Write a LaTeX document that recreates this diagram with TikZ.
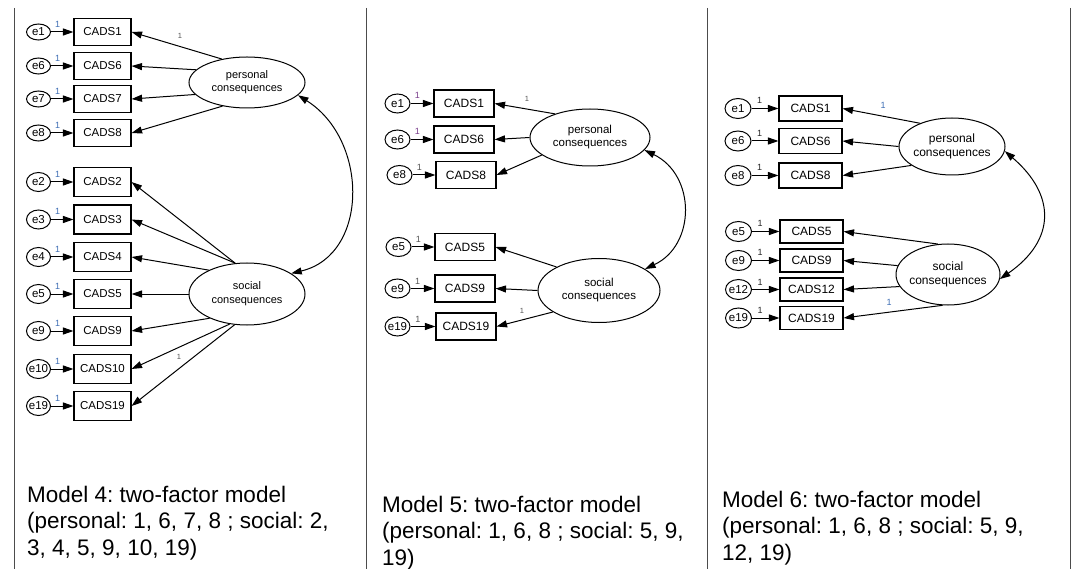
\documentclass[tikz,border=0pt]{standalone}
\usepackage{fontspec}
\setmainfont{Liberation Sans}
\usetikzlibrary{arrows.meta,shapes.geometric}
\definecolor{oneblue}{HTML}{3F6FB5}
\definecolor{onepurple}{HTML}{7A3E8C}
\definecolor{onegray}{HTML}{555555}
\frenchspacing
\begin{document}
\begin{tikzpicture}[x=1pt,y=-1pt,
  frame/.style={draw=black!70, line width=1pt},
  obs/.style={draw, line width=1.1pt, rectangle, inner sep=0pt, font=\fontsize{12}{14}\selectfont},
  err/.style={draw, line width=1pt, ellipse, inner sep=-3pt, font=\fontsize{11.5}{13}\selectfont},
  lat/.style={draw, line width=1pt, ellipse, inner sep=-12pt, align=center, font=\fontsize{11.5}{13}\selectfont},
  ld/.style={line width=1pt, -{Triangle[length=10.5pt,width=7pt]}},
  cov/.style={line width=1pt, {Triangle[length=10.5pt,width=7pt]}-{Triangle[length=10.5pt,width=7pt]}},
  onelab/.style={font=\fontsize{9}{10}\selectfont, inner sep=0.5pt},
  pathone/.style={font=\fontsize{7.5}{8}\selectfont, inner sep=0.5pt},
  errone/.style={onelab, pos=.3, above=3.5pt},
  caption/.style={anchor=north west, inner sep=0pt, align=left, font=\fontsize{22.5}{26.7}\selectfont}
]
\fill[white] (0,0) rectangle (1073,569);
\useasboundingbox (0,0) rectangle (1073,569);

% panel separators
\draw[frame] (14,8) -- (14,569);
\draw[frame] (366,8) -- (366,569);
\draw[frame] (707,8) -- (707,569);
\draw[frame] (1070,8) -- (1070,569);

% ================= Model 4 =================
\node[err, minimum width=24, minimum height=16] (m4e1) at (38.5,32) {e1};
\node[err, minimum width=24, minimum height=16] (m4e6) at (38.5,66) {e6};
\node[err, minimum width=24, minimum height=16] (m4e7) at (38.5,99) {e7};
\node[err, minimum width=24, minimum height=16] (m4e8) at (38.5,133) {e8};
\node[err, minimum width=24, minimum height=19] (m4e2) at (38.5,182) {e2};
\node[err, minimum width=24, minimum height=19] (m4e3) at (38.5,219.5) {e3};
\node[err, minimum width=24, minimum height=19] (m4e4) at (38.5,257) {e4};
\node[err, minimum width=24, minimum height=19] (m4e5) at (38.5,294) {e5};
\node[err, minimum width=24, minimum height=19] (m4e9) at (38.5,331) {e9};
\node[err, minimum width=24, minimum height=19] (m4e10) at (38.5,369) {e10};
\node[err, minimum width=24, minimum height=19] (m4e19) at (38.5,406) {e19};

\node[obs, minimum width=57, minimum height=27, font=\fontsize{11.5}{13}\selectfont] (m4b1) at (102.5,32) {CADS1};
\node[obs, minimum width=57, minimum height=27, font=\fontsize{11.5}{13}\selectfont] (m4b6) at (102.5,66) {CADS6};
\node[obs, minimum width=57, minimum height=27, font=\fontsize{11.5}{13}\selectfont] (m4b7) at (102.5,99) {CADS7};
\node[obs, minimum width=57, minimum height=27, font=\fontsize{11.5}{13}\selectfont] (m4b8) at (102.5,133) {CADS8};
\node[obs, minimum width=57, minimum height=29, font=\fontsize{11.5}{13}\selectfont] (m4b2) at (102.5,182) {CADS2};
\node[obs, minimum width=57, minimum height=29, font=\fontsize{11.5}{13}\selectfont] (m4b3) at (102.5,219.5) {CADS3};
\node[obs, minimum width=57, minimum height=29, font=\fontsize{11.5}{13}\selectfont] (m4b4) at (102.5,257) {CADS4};
\node[obs, minimum width=57, minimum height=29, font=\fontsize{11.5}{13}\selectfont] (m4b5) at (102.5,294) {CADS5};
\node[obs, minimum width=57, minimum height=29, font=\fontsize{11.5}{13}\selectfont] (m4b9) at (102.5,331) {CADS9};
\node[obs, minimum width=57, minimum height=29, font=\fontsize{11.5}{13}\selectfont] (m4b10) at (102.5,369) {CADS10};
\node[obs, minimum width=57, minimum height=29, font=\fontsize{11.5}{13}\selectfont] (m4b19) at (102.5,406) {CADS19};

\node[lat, minimum width=116, minimum height=51, font=\fontsize{11}{13}\selectfont] (m4p) at (247,82.5) {personal\\consequences};
\node[lat, minimum width=116, minimum height=62, font=\fontsize{11}{14}\selectfont] (m4s) at (247,294) {social\\consequences};

\foreach \i in {1,6,7,8,2,3,4,5,9,10,19}{
  \draw[ld] (m4e\i.east) -- node[errone, text=oneblue]{1} (m4b\i.west);
}
\draw[ld] (m4p.137) -- (m4b1.east);
\draw[ld] (m4p.166) -- (m4b6.east);
\draw[ld] (m4p.-167) -- (m4b7.east);
\draw[ld] (m4p.-136) -- (m4b8.east);
\draw[ld] (m4s.111) -- (m4b2.east);
\draw[ld] (m4s.111) -- (m4b3.east);
\draw[ld] (m4s.148) -- (m4b4.east);
\draw[ld] (m4s.180) -- (m4b5.east);
\draw[ld] (m4s.-147) -- (m4b9.east);
\draw[ld] (m4s.-120) -- (m4b10.east);
\draw[ld] (m4s.-112) -- (m4b19.east);
\node[pathone, text=onegray] (m4l1) at (180,36) {1};
\node[pathone, text=onegray] (m4l19) at (179,357) {1};
\draw[cov] (m4p.-14) .. controls (369,140) and (369,255) .. (m4s.25);

% ================= Model 5 =================
\node[err, minimum width=25, minimum height=19] (m5e1) at (397.5,103.5) {e1};
\node[err, minimum width=25, minimum height=19] (m5e6) at (397.5,139.5) {e6};
\node[err, minimum width=25, minimum height=19] (m5e8) at (399.5,175) {e8};
\node[err, minimum width=25, minimum height=19] (m5e5) at (398.5,247) {e5};
\node[err, minimum width=25, minimum height=19] (m5e9) at (397.5,288.5) {e9};
\node[err, minimum width=25, minimum height=19] (m5e19) at (397.5,326.5) {e19};

\node[obs, minimum width=60, minimum height=27] (m5b1) at (464,103.5) {CADS1};
\node[obs, minimum width=60, minimum height=27] (m5b6) at (464,139.5) {CADS6};
\node[obs, minimum width=60, minimum height=27] (m5b8) at (466,175) {CADS8};
\node[obs, minimum width=60, minimum height=27] (m5b5) at (465,247) {CADS5};
\node[obs, minimum width=60, minimum height=27] (m5b9) at (465,288.5) {CADS9};
\node[obs, minimum width=60, minimum height=27] (m5b19) at (466,326.5) {CADS19};

\node[lat, minimum width=120, minimum height=57] (m5p) at (590,137.5) {personal\\consequences};
\node[lat, minimum width=122, minimum height=64] (m5s) at (599,290.5) {social\\consequences};

\draw[ld] (m5e1.east) -- node[errone, text=onepurple]{1} (m5b1.west);
\draw[ld] (m5e6.east) -- node[errone, text=onepurple]{1} (m5b6.west);
\foreach \i in {8,5,9,19}{
  \draw[ld] (m5e\i.east) -- node[errone, text=onegray]{1} (m5b\i.west);
}
\draw[ld] (m5p.146.5) -- (m5b1.east);
\draw[ld] (m5p.180) -- (m5b6.east);
\draw[ld] (m5p.-160) -- (m5b8.east);
\draw[ld] (m5s.151) -- (m5b5.east);
\draw[ld] (m5s.180) -- (m5b9.east);
\draw[ld] (m5s.-155) -- (m5b19.east);
\node[pathone, text=onegray] (m5l1) at (527,99) {1};
\node[pathone, text=onegray] (m5l19) at (522,311) {1};
\draw[cov] (m5p.-13) .. controls (696,175) and (696,245) .. (m5s.25);

% ================= Model 6 =================
\node[err, minimum width=26, minimum height=20] (m6e1) at (738,108.5) {e1};
\node[err, minimum width=26, minimum height=20] (m6e6) at (738,141) {e6};
\node[err, minimum width=26, minimum height=20] (m6e8) at (738,175.5) {e8};
\node[err, minimum width=26, minimum height=20] (m6e5) at (738.5,231.5) {e5};
\node[err, minimum width=26, minimum height=20] (m6e9) at (738.5,260.5) {e9};
\node[err, minimum width=26, minimum height=20] (m6e12) at (738.5,289.5) {e12};
\node[err, minimum width=26, minimum height=20] (m6e19) at (738.5,318) {e19};

\node[obs, minimum width=63, minimum height=25] (m6b1) at (810.5,108.5) {CADS1};
\node[obs, minimum width=63, minimum height=25] (m6b6) at (810.5,141) {CADS6};
\node[obs, minimum width=63, minimum height=25] (m6b8) at (810.5,175.5) {CADS8};
\node[obs, minimum width=63, minimum height=23] (m6b5) at (811.5,231.5) {CADS5};
\node[obs, minimum width=63, minimum height=23] (m6b9) at (811.5,260.5) {CADS9};
\node[obs, minimum width=63, minimum height=23] (m6b12) at (811.5,289.5) {CADS12};
\node[obs, minimum width=63, minimum height=23] (m6b19) at (811.5,318) {CADS19};

\node[lat, minimum width=106, minimum height=57, font=\fontsize{12}{14}\selectfont] (m6p) at (952,146.5) {personal\\consequences};
\node[lat, minimum width=104, minimum height=61, font=\fontsize{12}{14}\selectfont] (m6s) at (948,274.5) {social\\consequences};

\foreach \i in {1,6,8,5,9,12,19}{
  \draw[ld] (m6e\i.east) -- node[errone, text=black!85]{1} (m6b\i.west);
}
\draw[ld] (m6p.144) -- (m6b1.east);
\draw[ld] (m6p.180) -- (m6b6.east);
\draw[ld] (m6p.-155) -- (m6b8.east);
\draw[ld] (m6s.108) -- (m6b5.east);
\draw[ld] (m6s.170) -- (m6b9.east);
\draw[ld] (m6s.-166) -- (m6b12.east);
\draw[ld] (m6s.-100) -- (m6b19.east);
\node[onelab, text=oneblue] (m6l1) at (883,105) {1};
\node[onelab, text=oneblue] (m6l19) at (889,302) {1};
\draw[cov] (m6p.-5) .. controls (1056,195) and (1056,240) .. (m6s.-5);

% ================= Captions =================
\node[caption] (cap4) at (27,485.7) {Model 4: two-factor model\\(personal: 1, 6, 7, 8 ; social: 2,\\3, 4, 5, 9, 10, 19)};
\node[caption] (cap5) at (382,495.7) {Model 5: two-factor model\\(personal: 1, 6, 8 ; social: 5, 9,\\19)};
\node[caption] (cap6) at (722,490.7) {Model 6: two-factor model\\(personal: 1, 6, 8 ; social: 5, 9,\\12, 19)};
\end{tikzpicture}
\end{document}
